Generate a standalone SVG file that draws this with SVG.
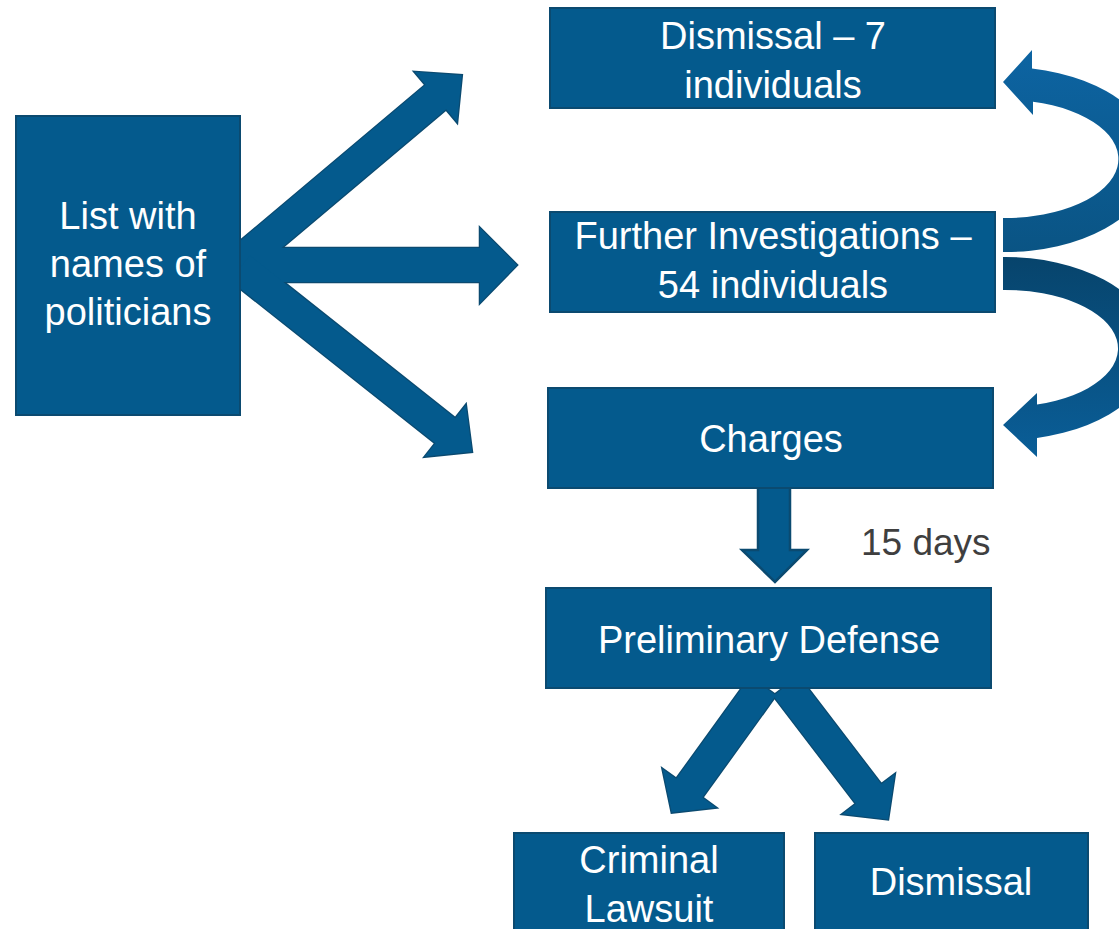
<svg xmlns="http://www.w3.org/2000/svg" xmlns:xlink="http://www.w3.org/1999/xlink" width="1119" height="929" viewBox="0 0 1119 929">
<defs>
<linearGradient id="gTop" x1="0" y1="0" x2="0" y2="1">
<stop offset="0" stop-color="#0D64A2"/>
<stop offset="1" stop-color="#0A5484"/>
</linearGradient>
<linearGradient id="gBot" x1="0" y1="0" x2="0" y2="1">
<stop offset="0" stop-color="#07446C"/>
<stop offset="1" stop-color="#0A5E98"/>
</linearGradient>
<g id="fanArrows">
<polygon transform="translate(240,262) rotate(-40.1)" points="0,-16 256,-16 256,-33 290,0 256,33 256,16 0,16"/>
<polygon points="236,248 480,248 480,228 517,265 480,303 480,282 236,282"/>
<polygon transform="translate(240,268) rotate(38.4)" points="0,-16 262,-16 262,-33 296,0 262,33 262,16 0,16"/>
</g>
<g id="splitArrows">
<polygon transform="translate(763,686) rotate(125.8)" points="0,-16 126,-16 126,-33 156,0 126,33 126,16 0,16"/>
<polygon transform="translate(786,686) rotate(52.6)" points="0,-16 136,-16 136,-33 168,0 136,33 136,16 0,16"/>
</g>
</defs>
<style>
.box{fill:#045A8D;stroke:#0B4A70;stroke-width:2}
.arrS{fill:#045A8D;stroke:#0B4A70;stroke-width:2.5;stroke-linejoin:miter}
.arrF{fill:#045A8D;stroke:none}
.t{font-family:"Liberation Sans",Arial,sans-serif;font-size:38px;fill:#FFFFFF;text-anchor:middle}
.lbl{font-family:"Liberation Sans",Arial,sans-serif;font-size:37px;fill:#3F3F3F}
</style>
<rect width="1119" height="929" fill="#FFFFFF"/>
<g id="connectors">
<use xlink:href="#fanArrows" class="arrS"/>
<use xlink:href="#fanArrows" class="arrF"/>
<polygon class="arrS" points="758,486 790,486 790,550 807,550 775,582 742,550 758,550"/>
<use xlink:href="#splitArrows" class="arrS"/>
<use xlink:href="#splitArrows" class="arrF"/>
<path fill="url(#gTop)" d="M 1003,252 A 150,92.5 0 0 0 1032,68.5 L 1032,50 L 1003,82 L 1033,115 L 1033,101.8 A 113,59 0 0 1 1003,218 Z"/>
<path fill="url(#gBot)" d="M 1003,257 A 150,91.5 0 0 1 1037,437.9 L 1037,457 L 1003,425 L 1037,393 L 1037,404.6 A 113,58.5 0 0 0 1003,290 Z"/>
</g>
<g id="node-list">
<rect class="box" x="16" y="116" width="224" height="299"/>
<text class="t" x="128" y="229">List with</text>
<text class="t" x="128" y="277">names of</text>
<text class="t" x="128" y="325">politicians</text>
</g>
<g id="node-dismissal7">
<rect class="box" x="550" y="8" width="445" height="100"/>
<text class="t" x="773" y="49">Dismissal – 7</text>
<text class="t" x="773" y="98">individuals</text>
</g>
<g id="node-further">
<rect class="box" x="550" y="212" width="445" height="100"/>
<text class="t" x="773" y="249">Further Investigations –</text>
<text class="t" x="773" y="298">54 individuals</text>
</g>
<g id="node-charges">
<rect class="box" x="548" y="388" width="445" height="100"/>
<text class="t" x="771" y="452">Charges</text>
</g>
<g id="label-15days">
<text class="lbl" x="861" y="555">15 days</text>
</g>
<g id="node-preliminary">
<rect class="box" x="546" y="588" width="445" height="100"/>
<text class="t" x="769" y="653">Preliminary Defense</text>
</g>
<g id="node-criminal">
<rect class="box" x="514" y="833" width="270" height="110"/>
<text class="t" x="649" y="873">Criminal</text>
<text class="t" x="649" y="922">Lawsuit</text>
</g>
<g id="node-dismissal">
<rect class="box" x="815" y="833" width="273" height="110"/>
<text class="t" x="951" y="895">Dismissal</text>
</g>
</svg>
